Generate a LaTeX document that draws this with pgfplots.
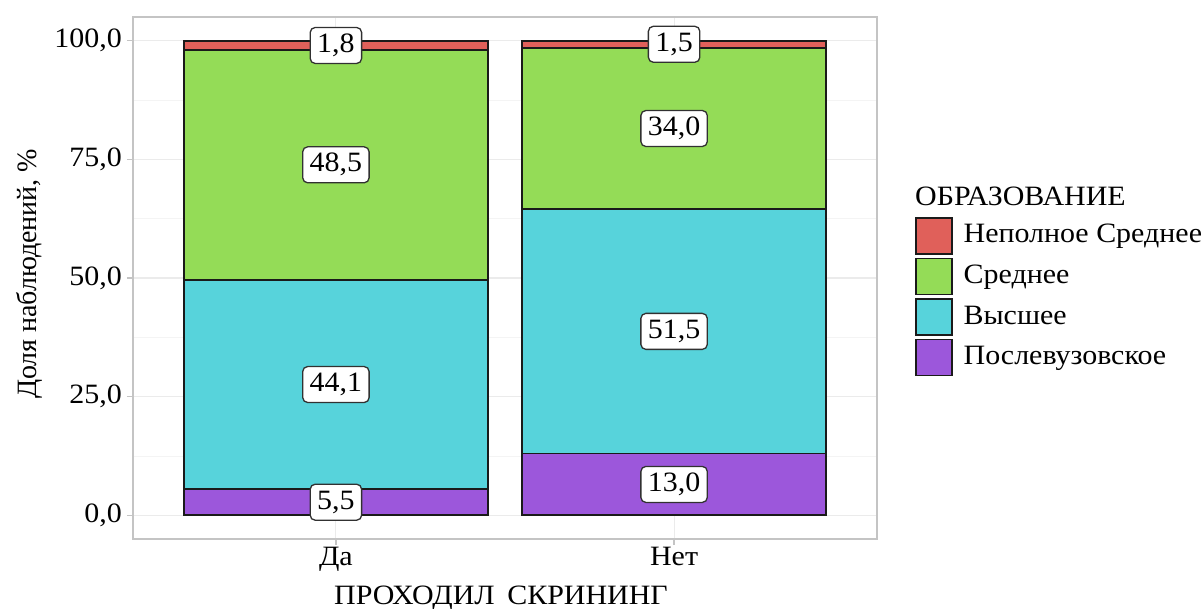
\documentclass[border=0pt]{standalone}
\usepackage{fontspec}
\setmainfont{Liberation Serif}[FakeStretch=1.07]
\newfontfamily\ylfont{Liberation Serif}
\usepackage{pgfplots}
\pgfplotsset{compat=1.18}
\usepackage{pgfplotstable}
\definecolor{cRed}{HTML}{E0605A}
\definecolor{cGreen}{HTML}{94DC57}
\definecolor{cCyan}{HTML}{57D3DB}
\definecolor{cPurple}{HTML}{9C57DB}
\definecolor{gridmaj}{HTML}{EBEBEB}
\definecolor{gridmin}{HTML}{F4F4F4}
\definecolor{frame}{HTML}{C4C4C4}
\definecolor{edge}{HTML}{1A1A1A}

\pgfplotstableread{
x purple cyan green red
0 5.5 44.1 48.5 1.8
1 13.0 51.5 34.0 1.5
}\bars
\pgfplotstableread{
x y v
0 2.75 5.5
0 27.55 44.1
0 73.85 48.5
0 99.0 1.8
1 6.5 13.0
1 38.75 51.5
1 81.5 34.0
1 99.25 1.5
}\labels

\pgfplotsset{base/.style={
  at={(133pt,69pt)}, anchor=south west, scale only axis,
  width=744pt, height=522pt,
  xmin=-0.6, xmax=1.6, ymin=-5, ymax=105}}

\begin{document}
\fontsize{28pt}{33pt}\selectfont
\begin{tikzpicture}
\useasboundingbox (0,0) rectangle (1204pt,608pt);
\begin{axis}[base,
  ybar stacked, bar width=0.9,
  xtick={0,1}, xticklabels={Да,Нет},
  ytick={0,25,50,75,100}, minor ytick={12.5,37.5,62.5,87.5},
  ymajorgrids, yminorgrids, xmajorgrids,
  major grid style={draw=gridmaj, line width=1.1pt},
  minor grid style={draw=gridmin, line width=0.8pt},
  axis line style={draw=frame, line width=1.6pt},
  tick align=outside, major tick length=6pt, minor tick length=0pt,
  xtick pos=bottom, ytick pos=left,
  tick style={draw=frame, line width=1.3pt},
  /pgf/number format/fixed, /pgf/number format/fixed zerofill,
  /pgf/number format/precision=1, /pgf/number format/use comma,
  /pgf/number format/assume math mode=true,
  y tick label style={inner sep=2pt, xshift=-3pt},
  x tick label style={inner sep=2pt},
  reverse legend,
  legend cell align=left,
  legend style={at={(1.0511,0.6169)}, anchor=north west, draw=none, fill=none,
    inner sep=0pt, outer sep=0pt, row sep=3pt, nodes={inner sep=0pt}},
  legend image code/.code={\draw[#1] (0pt,-18pt) rectangle (36pt,18pt); \path (47pt,0pt);},
]
\addplot[fill=cPurple, draw=edge, line width=1.6pt] table[x=x, y=purple]{\bars};
\addlegendentry{Послевузовское}
\addplot[fill=cCyan, draw=edge, line width=1.6pt] table[x=x, y=cyan]{\bars};
\addlegendentry{Высшее}
\addplot[fill=cGreen, draw=edge, line width=1.6pt] table[x=x, y=green]{\bars};
\addlegendentry{Среднее}
\addplot[fill=cRed, draw=edge, line width=1.6pt] table[x=x, y=red]{\bars};
\addlegendentry{Неполное Среднее}
\end{axis}
\begin{axis}[base, hide axis, clip=false]
\addplot[only marks, mark=*, mark size=0.1pt, mark options={draw=none, fill=none},
  point meta=explicit,
  nodes near coords={\pgfmathprintnumber[fixed, fixed zerofill, precision=1, use comma, assume math mode=true]{\pgfplotspointmeta}},
  nodes near coords align={center},
  nodes near coords style={anchor=center, fill=white, draw=edge!90, line width=1.3pt,
    rounded corners=5pt, inner xsep=7pt, inner ysep=5.5pt, text height=19.5pt, text depth=5.5pt}]
  table[x=x, y=y, meta=v]{\labels};
\end{axis}
\node[anchor=base, inner sep=0pt] at (501pt,4pt) {ПРОХОДИЛ\hspace{0.45em}СКРИНИНГ};
\node[rotate=90, anchor=base, inner sep=0pt] at (36pt,334pt) {\ylfont Доля наблюдений, \%};
\node[anchor=base west, inner sep=0pt] at (915pt,402pt) {ОБРАЗОВАНИЕ};
\end{tikzpicture}
\end{document}
